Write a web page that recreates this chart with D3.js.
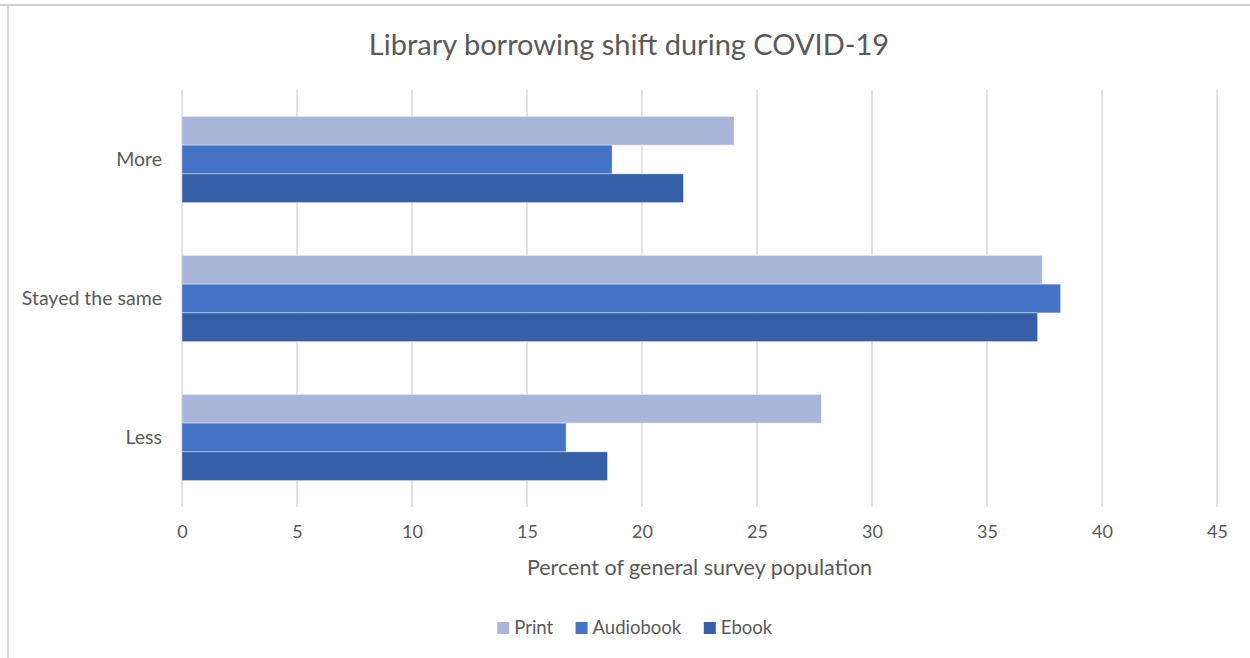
<!DOCTYPE html>
<html>
<head>
<meta charset="utf-8">
<script src="https://cdn.jsdelivr.net/npm/d3@7"></script>
<style>
  html, body { margin: 0; padding: 0; background: #fff; }
  svg { display: block; }
  text { font-family: Lato, "Open Sans", sans-serif; fill: #595959; }
</style>
</head>
<body>
<svg id="chart" width="1250" height="658"></svg>
<script>
// Survey responses: change in library borrowing during COVID-19 (percent)
const categories = ["More", "Stayed the same", "Less"];
const seriesNames = ["Print", "Audiobook", "Ebook"];
const printValues = [24.0, 37.4, 27.8];
const audiobookValues = [18.7, 38.2, 16.7];
const ebookValues = [21.8, 37.2, 18.5];
const xTicks = [0, 5, 10, 15, 20, 25, 30, 35, 40, 45];
const colors = ["#A9B6DA", "#4472C4", "#355FA6"];

const seriesValues = [printValues, audiobookValues, ebookValues];

const W = 1250, H = 658;
const margin = { top: 90, right: 33, bottom: 151, left: 182 };
const plotW = W - margin.left - margin.right;
const plotH = H - margin.top - margin.bottom;

const svg = d3.select("#chart");

// Chart frame (top and left edges)
svg.append("line").attr("x1", 0).attr("x2", W).attr("y1", 5).attr("y2", 5)
  .attr("stroke", "#d0d0d0").attr("stroke-width", 2);
svg.append("line").attr("x1", 8).attr("x2", 8).attr("y1", 5).attr("y2", H)
  .attr("stroke", "#d9d9d9").attr("stroke-width", 2);

svg.append("text")
  .attr("x", 629).attr("y", 55)
  .attr("text-anchor", "middle")
  .attr("font-size", 29)
  .text("Library borrowing shift during COVID-19");

const g = svg.append("g").attr("transform", `translate(${margin.left},${margin.top})`);

const x = d3.scaleLinear().domain([0, 45]).range([0, plotW]);
const y = d3.scaleBand().domain(categories).range([0, plotH]).paddingInner(0.38).paddingOuter(0.19);
const ySub = d3.scaleBand().domain(seriesNames).range([0, y.bandwidth()]);

// Vertical gridlines
g.append("g")
  .selectAll("line")
  .data(xTicks)
  .join("line")
  .attr("x1", d => x(d)).attr("x2", d => x(d))
  .attr("y1", 0).attr("y2", plotH)
  .attr("stroke", "#d9d9d9").attr("stroke-width", 1.5);

// Bars
const rows = categories.map((c, i) => ({
  category: c,
  values: seriesNames.map((s, j) => ({ series: s, value: seriesValues[j][i], color: colors[j] }))
}));

g.append("g")
  .selectAll("g")
  .data(rows)
  .join("g")
  .attr("transform", d => `translate(0,${y(d.category)})`)
  .selectAll("rect")
  .data(d => d.values)
  .join("rect")
  .attr("x", x(0))
  .attr("y", d => ySub(d.series))
  .attr("width", d => x(d.value) - x(0))
  .attr("height", ySub.bandwidth())
  .attr("fill", d => d.color)
  .attr("stroke", "rgba(255,255,255,0.5)")
  .attr("stroke-width", 0.75);

// X axis tick labels
const xAxis = d3.axisBottom(x).tickValues(xTicks).tickSize(0).tickPadding(18);
const xg = g.append("g").attr("transform", `translate(0,${plotH})`).call(xAxis);
xg.select(".domain").remove();
xg.selectAll("text").attr("font-size", 18).style("font-family", "Lato, sans-serif").attr("fill", "#595959");

// Y axis category labels
const yAxis = d3.axisLeft(y).tickSize(0).tickPadding(20);
const yg = g.append("g").call(yAxis);
yg.select(".domain").remove();
yg.selectAll("text").attr("font-size", 19.5).style("font-family", "Lato, sans-serif").attr("fill", "#595959");

// Axis title
svg.append("text")
  .attr("x", margin.left + plotW / 2).attr("y", 575)
  .attr("text-anchor", "middle")
  .attr("font-size", 21.5)
  .text("Percent of general survey population");

// Legend
const legend = svg.append("g");
const items = legend.selectAll("g").data(seriesNames).join("g");
items.append("rect").attr("width", 12).attr("height", 12).attr("fill", (d, i) => colors[i]);
items.append("text").attr("x", 17).attr("y", 12).attr("font-size", 18.5).text(d => d);
let offset = 0;
items.each(function () {
  const node = d3.select(this);
  node.attr("transform", `translate(${offset},0)`);
  offset += this.getBBox().width + 22;
});
const legendW = offset - 22;
legend.attr("transform", `translate(${635 - legendW / 2},622)`);
</script>
</body>
</html>
